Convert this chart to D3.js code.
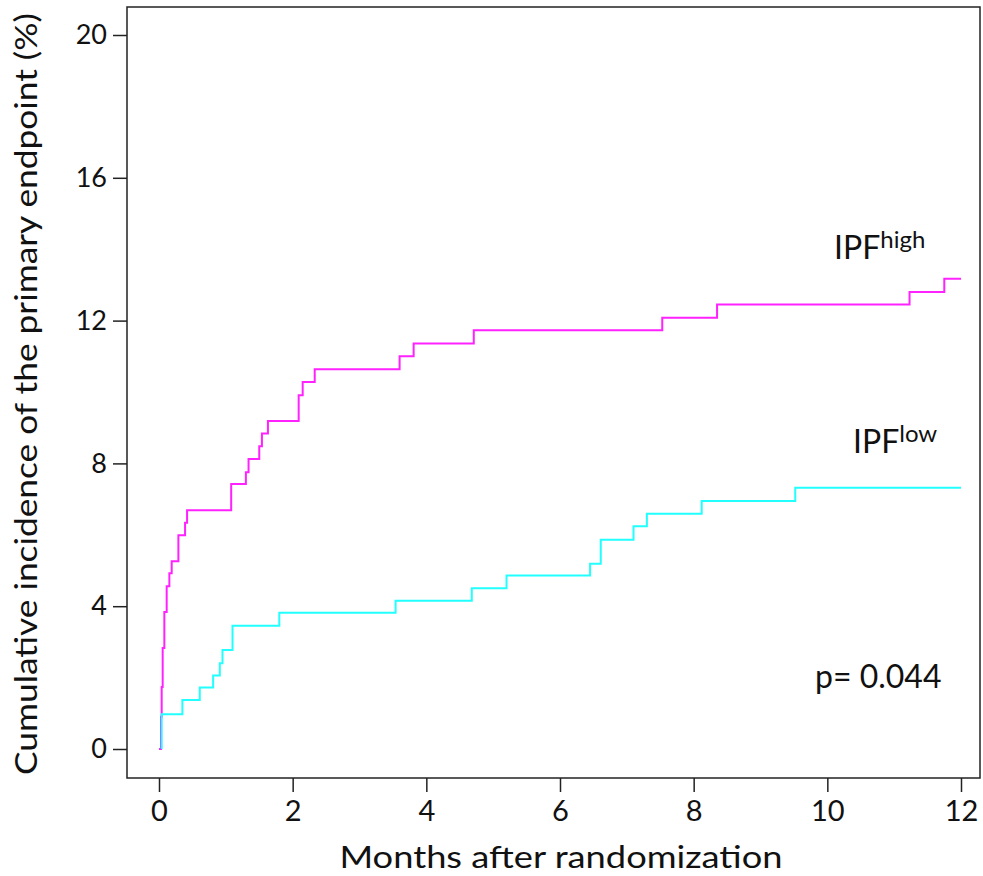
<!DOCTYPE html>
<html>
<head>
<meta charset="utf-8">
<script src="https://cdn.jsdelivr.net/npm/d3@7"></script>
<style>
  body { margin: 0; background: #fff; }
  text { font-family: Lato, "Open Sans", sans-serif; fill: #111; }
</style>
</head>
<body>
<svg id="chart" width="983" height="876"></svg>
<script>
// months after randomization / cumulative incidence (%)
const highT = [0, 0.03, 0.04, 0.055, 0.08, 0.115, 0.155, 0.19, 0.29, 0.39, 0.42, 1.08, 1.30, 1.34, 1.50, 1.54, 1.63, 2.09, 2.15, 2.33, 3.60, 3.81, 4.71, 7.53, 8.35, 11.23, 11.75, 12]
const highY = [0, 0.9, 1.74, 2.83, 3.84, 4.56, 4.92, 5.26, 5.99, 6.34, 6.69, 7.42, 7.75, 8.12, 8.48, 8.84, 9.19, 9.91, 10.28, 10.64, 11.0, 11.36, 11.73, 12.08, 12.45, 12.80, 13.17, 13.17]

const lowT = [0.04, 0.04, 0.35, 0.61, 0.81, 0.91, 0.95, 1.10, 1.80, 3.54, 4.68, 5.20, 6.45, 6.61, 7.10, 7.30, 8.12, 9.52, 12]
const lowY = [0, 0.97, 1.37, 1.72, 2.06, 2.40, 2.77, 3.45, 3.82, 4.15, 4.50, 4.86, 5.19, 5.86, 6.24, 6.59, 6.95, 7.32, 7.32]

const xTicks = [0, 2, 4, 6, 8, 10, 12]
const yTicks = [0, 4, 8, 12, 16, 20]

const svg = d3.select("#chart")

//plot box
let box = {l: 127, t: 7, r: 980, b: 778}

let x = d3.scaleLinear().domain([0, 12]).range([159, 961])
let y = d3.scaleLinear().domain([0, 20]).range([749, 35])

svg.append("rect")
  .attr("x", box.l).attr("y", box.t)
  .attr("width", box.r - box.l).attr("height", box.b - box.t)
  .attr("fill", "none").attr("stroke", "#222").attr("stroke-width", 1.5)

//axes
let xAxis = svg.append("g").attr("transform", `translate(0,${box.b})`)
  .call(d3.axisBottom(x).tickValues(xTicks).tickSize(14).tickPadding(8))
let yAxis = svg.append("g").attr("transform", `translate(${box.l},0)`)
  .call(d3.axisLeft(y).tickValues(yTicks).tickSize(14).tickPadding(6))

;[xAxis, yAxis].forEach(g => {
  g.select(".domain").remove()
  g.selectAll("line").attr("stroke", "#222").attr("stroke-width", 1.5)
  g.selectAll("text").style("font-family", "Lato, sans-serif").attr("fill", "#111")
})
xAxis.selectAll("text").attr("font-size", 29)
yAxis.selectAll("text").attr("font-size", 27)

//curves
let line = d3.line().x(d => x(d[0])).y(d => y(d[1])).curve(d3.curveStepAfter)
let high = highT.map((t, i) => [t, highY[i]])
let low = lowT.map((t, i) => [t, lowY[i]])

svg.append("path").datum(high)
  .attr("d", line).attr("fill", "none").attr("stroke", "#ff22ff").attr("stroke-width", 2)
svg.append("path").datum(low)
  .attr("d", line).attr("fill", "none").attr("stroke", "#22ffff").attr("stroke-width", 2)

//titles
svg.append("text")
  .attr("x", 561).attr("y", 868)
  .attr("text-anchor", "middle").attr("font-size", 31)
  .attr("textLength", 443).attr("lengthAdjust", "spacingAndGlyphs")
  .text("Months after randomization")

svg.append("text")
  .attr("transform", "translate(37,394) rotate(-90)")
  .attr("text-anchor", "middle").attr("font-size", 31)
  .attr("textLength", 762).attr("lengthAdjust", "spacingAndGlyphs")
  .text("Cumulative incidence of the primary endpoint (%)")

//group labels
let lab = (px, py, sup) => {
  let t = svg.append("text").attr("x", px).attr("y", py).attr("font-size", 32)
  t.append("tspan").text("IPF")
  t.append("tspan").attr("font-size", 24).attr("dy", -11).text(sup)
}
lab(834, 259, "high")
lab(853, 453, "low")

svg.append("text")
  .attr("x", 815).attr("y", 688).attr("font-size", 32)
  .text("p= 0.044")
</script>
</body>
</html>
